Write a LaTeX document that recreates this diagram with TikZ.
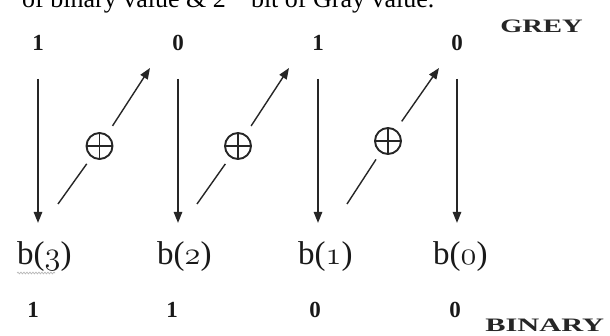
\documentclass[tikz,border=0pt]{standalone}
\usepackage{graphicx}
\usepackage{fontspec}
\setmainfont{Liberation Serif}
\usetikzlibrary{arrows.meta,decorations.pathmorphing}
\newcommand\myosn[1]{\scalebox{1.3}{\usefont{OML}{lmm}{m}{it}#1}}
\begin{document}
\begin{tikzpicture}[x=1pt,y=-1pt,
  ink/.style={draw=black!85, line width=1.4pt},
  arr/.style={ink, -{Triangle[length=11pt,width=8.5pt]}},
  bit/.style={font=\fontsize{23}{23}\selectfont\bfseries, inner sep=0pt, text=black!90},
  lbl/.style={font=\fontsize{33}{33}\selectfont, inner sep=0pt, anchor=base west, text=black!90},
  tag/.style={font=\fontsize{19}{19}\selectfont\bfseries, inner sep=0pt, anchor=base west, text=black!85},
  xor/.style={circle, draw=black!85, line width=1.9pt, minimum size=26pt, inner sep=0pt,
    path picture={\draw[line width=1.4pt, black!85] (path picture bounding box.north) -- (path picture bounding box.south)
      (path picture bounding box.west) -- (path picture bounding box.east);}}
]
\useasboundingbox (0,0) rectangle (610,336);
\fill[white] (0,0) rectangle (610,336);
\clip (0,0) rectangle (610,336);

% cropped caption line
\node[font=\fontsize{26}{26}\selectfont, inner sep=0pt, anchor=base west] (cap) at (22,8)
  {of binary value \& 2\textsuperscript{nd} bit of Gray value.};

% Gray bits
\node[bit] (g3) at (38,43) {1};
\node[bit] (g2) at (178,43) {0};
\node[bit] (g1) at (318,43) {1};
\node[bit] (g0) at (457,43) {0};
\node[tag, xscale=1.5] (gy) at (500,33) {GREY};

% binary labels
\node[lbl] (b3) at (17,265) {b(\myosn{3})};
\node[lbl] (b2) at (157,265) {b(\myosn{2})};
\node[lbl] (b1) at (298,265) {b(\myosn{1})};
\node[lbl] (b0) at (433,265) {b(\myosn{0})};
\draw[gray!55, line width=0.7pt, decorate, decoration={snake, amplitude=0.9pt, segment length=3pt}] (17,273) -- (55,273);

% binary bits
\node[bit] (n3) at (33,310) {1};
\node[bit] (n2) at (172,310) {1};
\node[bit] (n1) at (315,310) {0};
\node[bit] (n0) at (455,310) {0};
\node[tag, xscale=1.6] (bn) at (485,332) {BINARY};

% vertical arrows
\foreach \g/\b in {g3/b3, g2/b2, g1/b1, g0/b0}
  \draw[arr, shorten <=28pt, shorten >=19pt] (\g.south) -- (\g.south |- \b.north);

% XOR nodes
\node[xor] (x1) at (99.5,146) {};
\node[xor] (x2) at (238,146) {};
\node[xor] (x3) at (388,141) {};

\coordinate (s1) at (58,204);
\coordinate (e1) at (150,68);
\coordinate (s2) at (197,204);
\coordinate (e2) at (289,68);
\coordinate (s3) at (347,204);
\coordinate (e3) at (439,68);

\foreach \i in {1,2,3}{
  \draw[ink, shorten >=8pt] (s\i) -- (x\i);
  \draw[arr, shorten <=10pt] (x\i) -- (e\i);
}
\end{tikzpicture}
\end{document}
